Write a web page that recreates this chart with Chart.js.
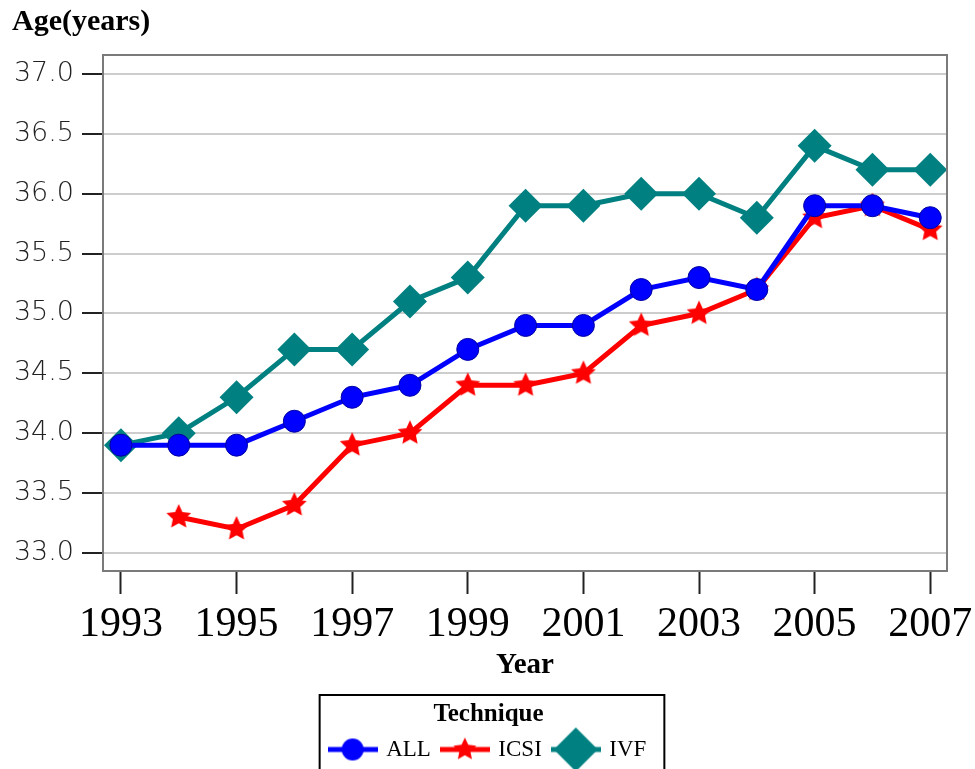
<!DOCTYPE html>
<html>
<head>
<meta charset="utf-8">
<script src="https://cdn.jsdelivr.net/npm/chart.js@4/dist/chart.umd.min.js"></script>
<style>
  html, body { margin: 0; padding: 0; background: #fff; }
  #wrap { width: 975px; height: 769px; }
</style>
</head>
<body>
<div id="wrap"><canvas id="chart"></canvas></div>
<script>
const years = [1993, 1994, 1995, 1996, 1997, 1998, 1999, 2000, 2001, 2002, 2003, 2004, 2005, 2006, 2007];
const allAge  = [33.9, 33.9, 33.9, 34.1, 34.3, 34.4, 34.7, 34.9, 34.9, 35.2, 35.3, 35.2, 35.9, 35.9, 35.8];
const icsiAge = [null, 33.3, 33.2, 33.4, 33.9, 34.0, 34.4, 34.4, 34.5, 34.9, 35.0, 35.2, 35.8, 35.9, 35.7];
const ivfAge  = [33.9, 34.0, 34.3, 34.7, 34.7, 35.1, 35.3, 35.9, 35.9, 36.0, 36.0, 35.8, 36.4, 36.2, 36.2];
const yearTicks = [1993, 1995, 1997, 1999, 2001, 2003, 2005, 2007];
const ageTicks = [33.0, 33.5, 34.0, 34.5, 35.0, 35.5, 36.0, 36.5, 37.0];
const seriesNames = ['ALL', 'ICSI', 'IVF'];
const seriesColors = ['#0000ff', '#ff0000', '#008080'];

const SERIF = "'Liberation Serif', 'Times New Roman', serif";
const SANS = "'DejaVu Sans', Verdana, sans-serif";

// étoile pleine à 5 branches (Chart.js n'a qu'un astérisque)
function drawStar(g, r, color) {
  g.beginPath();
  for (let i = 0; i < 10; i++) {
    const rr = i % 2 ? r * 0.48 : r;
    const a = -Math.PI / 2 + i * Math.PI / 5;
    g.lineTo(rr * Math.cos(a), rr * Math.sin(a));
  }
  g.closePath();
  g.fillStyle = color;
  g.fill();
}

function starCanvas(r, color) {
  const c = document.createElement('canvas');
  c.width = c.height = Math.ceil(r * 2 + 2);
  const g = c.getContext('2d');
  g.translate(c.width / 2, c.height / 2);
  drawStar(g, r, color);
  return c;
}

// symbole de légende : trait + marqueur
function legendIcon(kind, color) {
  const c = document.createElement('canvas');
  c.width = 50; c.height = 46;
  const g = c.getContext('2d');
  g.strokeStyle = color;
  g.lineWidth = 5;
  g.beginPath(); g.moveTo(0, 23); g.lineTo(50, 23); g.stroke();
  g.translate(25, 23);
  g.fillStyle = color;
  if (kind === 'circle') {
    g.beginPath(); g.arc(0, 0, 11, 0, Math.PI * 2); g.fill();
  } else if (kind === 'star') {
    drawStar(g, 12, color);
  } else {
    g.beginPath(); g.moveTo(0, -22); g.lineTo(22, 0); g.lineTo(0, 22); g.lineTo(-22, 0); g.closePath(); g.fill();
  }
  return c;
}

const legendIcons = [
  legendIcon('circle', seriesColors[0]),
  legendIcon('star', seriesColors[1]),
  legendIcon('diamond', seriesColors[2])
];

const framePlugin = {
  id: 'frame',
  afterLayout(chart) {
    // décaler la légende vers la droite
    chart.legend.left += 15;
    chart.legend.right += 15;
  },
  afterDraw(chart) {
    const { ctx, chartArea: a, legend } = chart;
    ctx.save();
    ctx.strokeStyle = '#7a7a7a';
    ctx.lineWidth = 2;
    ctx.strokeRect(a.left, a.top, a.right - a.left, a.bottom - a.top);
    // cadre de la légende
    const boxes = legend.legendHitBoxes;
    const l = Math.min(...boxes.map(b => b.left)) - 11;
    const r = Math.max(...boxes.map(b => b.left + b.width)) + 18;
    ctx.strokeStyle = '#000';
    ctx.strokeRect(l, legend.top + 1, r - l, chart.height);
    // titre de l'axe Y en haut à gauche
    ctx.fillStyle = '#000';
    ctx.font = "bold 30px " + SERIF;
    ctx.textBaseline = 'middle';
    ctx.textAlign = 'left';
    ctx.fillText('Age(years)', 12, 22);
    ctx.restore();
  }
};

const pts = arr => years.map((y, i) => ({ x: y, y: arr[i] }));

new Chart(document.getElementById('chart'), {
  type: 'line',
  data: {
    datasets: [
      {
        label: seriesNames[0], data: pts(allAge),
        borderColor: seriesColors[0], backgroundColor: seriesColors[0], borderWidth: 5,
        pointStyle: 'circle', pointRadius: 11, pointBorderColor: '#0000a0', pointBorderWidth: 1
      },
      {
        label: seriesNames[1], data: pts(icsiAge),
        borderColor: seriesColors[1], backgroundColor: seriesColors[1], borderWidth: 5,
        pointStyle: starCanvas(13, seriesColors[1]), spanGaps: false
      },
      {
        label: seriesNames[2], data: pts(ivfAge),
        borderColor: seriesColors[2], backgroundColor: seriesColors[2], borderWidth: 5,
        pointStyle: 'rectRot', pointRadius: 17, pointBorderWidth: 0
      }
    ]
  },
  options: {
    responsive: true,
    maintainAspectRatio: false,
    animation: false,
    layout: { padding: { top: 55, right: 28, left: 0, bottom: -2 } },
    scales: {
      x: {
        type: 'linear', min: 1992.69, max: 2007.29,
        afterBuildTicks: s => { s.ticks = yearTicks.map(v => ({ value: v })); },
        afterFit: s => { s.height = 123; s.paddingLeft = 0; s.paddingRight = 0; },
        grid: { drawOnChartArea: false, tickLength: 23, tickWidth: 2, tickColor: '#222' },
        border: { display: false },
        ticks: {
          font: { family: SERIF, size: 42 }, color: '#000', padding: 6,
          maxRotation: 0, autoSkip: false, callback: v => String(v)
        },
        title: {
          display: true, text: 'Year', color: '#000',
          font: { family: SERIF, size: 29, weight: 'bold' }, padding: { top: 0, bottom: 11 }
        }
      },
      y: {
        min: 32.849, max: 37.159,
        afterBuildTicks: s => { s.ticks = ageTicks.map(v => ({ value: v })); },
        afterFit: s => { s.width = 103; },
        grid: { color: '#cdcdcd', lineWidth: 2, tickLength: 21, tickWidth: 2, tickColor: '#222' },
        border: { display: false },
        ticks: { font: { family: SANS, size: 27, weight: 300 }, color: '#222', padding: 8, callback: v => v.toFixed(1) }
      }
    },
    plugins: {
      tooltip: { enabled: false },
      legend: {
        position: 'bottom',
        title: {
          display: true, text: 'Technique', color: '#000',
          font: { family: SERIF, size: 25, weight: 'bold' }, padding: { top: 8, bottom: -6 }
        },
        labels: {
          usePointStyle: true, pointStyleWidth: 44, boxHeight: 23,
          font: { family: SERIF, size: 23 }, color: '#000', padding: 12,
          generateLabels: chart => chart.data.datasets.map((d, i) => ({
            text: d.label, pointStyle: legendIcons[i], datasetIndex: i,
            fontColor: '#000', hidden: false, lineWidth: 0
          }))
        }
      }
    }
  },
  plugins: [framePlugin]
});
</script>
</body>
</html>
